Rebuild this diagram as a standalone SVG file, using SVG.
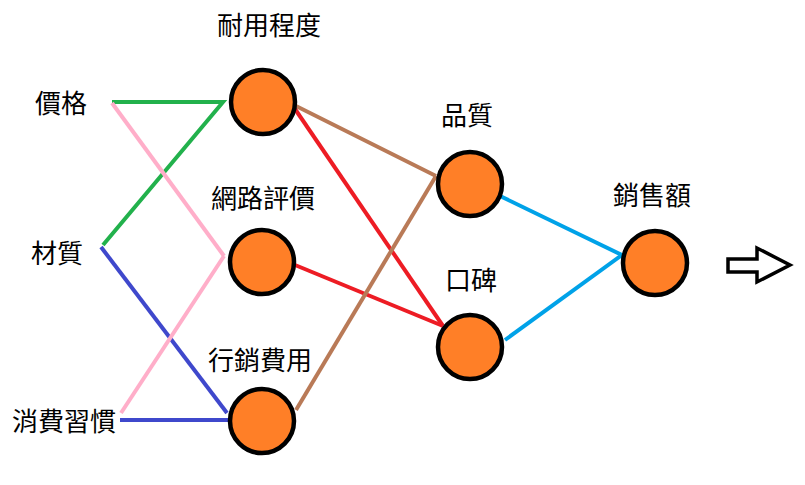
<svg xmlns="http://www.w3.org/2000/svg" width="805" height="485" viewBox="0 0 805 485">
<style>
.lbl{font-family:"Noto Sans CJK TC","Noto Sans CJK SC",sans-serif;font-size:26px;fill:#000;text-anchor:middle}
.node{fill:#ff7f27;stroke:#000;stroke-width:4.5}
.ln{stroke-width:4;fill:none;stroke-linecap:butt}
</style>
<rect width="805" height="485" fill="#fff"/>
<g id="connectors">
<polyline class="ln" stroke="#22b14c" points="112,102 223,102 103,245"/>
<line class="ln" stroke="#ffaec9" x1="112" y1="103" x2="224" y2="256"/>
<line class="ln" stroke="#3f48cc" x1="101" y1="247" x2="227" y2="413"/>
<line class="ln" stroke="#ffaec9" x1="121" y1="413" x2="224" y2="256"/>
<line class="ln" stroke="#3f48cc" x1="120" y1="420" x2="228" y2="420"/>
<line class="ln" stroke="#b97a57" x1="296" y1="106" x2="436" y2="176"/>
<line class="ln" stroke="#ed1c24" x1="295" y1="109" x2="443" y2="326"/>
<line class="ln" stroke="#ed1c24" x1="295" y1="265" x2="443" y2="326"/>
<line class="ln" stroke="#b97a57" x1="296" y1="410" x2="436" y2="176"/>
<line class="ln" stroke="#00a2e8" x1="500" y1="196" x2="622" y2="255"/>
<line class="ln" stroke="#00a2e8" x1="505" y1="340" x2="622" y2="255"/>
</g>
<g id="n-price"><text class="lbl" x="61" y="113">價格</text></g>
<g id="n-material"><text class="lbl" x="57" y="263">材質</text></g>
<g id="n-habit"><text class="lbl" x="64" y="431">消費習慣</text></g>
<g id="n-durability"><circle class="node" cx="263" cy="102" r="32"/><text class="lbl" x="269" y="35">耐用程度</text></g>
<g id="n-review"><circle class="node" cx="262" cy="262" r="32"/><text class="lbl" x="263" y="208">網路評價</text></g>
<g id="n-marketing"><circle class="node" cx="262" cy="421" r="32"/><text class="lbl" x="260" y="370">行銷費用</text></g>
<g id="n-quality"><circle class="node" cx="470" cy="184" r="32"/><text class="lbl" x="467" y="125">品質</text></g>
<g id="n-wom"><circle class="node" cx="470" cy="347" r="32"/><text class="lbl" x="471" y="290">口碑</text></g>
<g id="n-sales"><circle class="node" cx="655" cy="263" r="32"/><text class="lbl" x="652" y="205">銷售額</text></g>
<g id="arrow"><polygon points="728,259 757,259 757,248 790,265 757,282 757,272 728,272" fill="#fff" stroke="#000" stroke-width="3.5" stroke-linejoin="miter"/></g>
</svg>
